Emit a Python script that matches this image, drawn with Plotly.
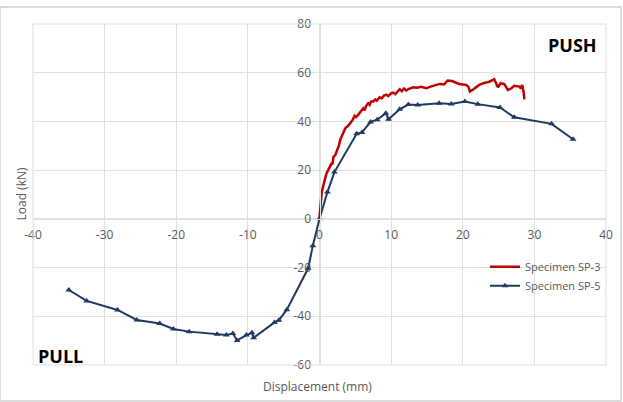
import plotly.graph_objects as go

# SP-3 (red, no markers)
sp3_x = [0.0, 0.1, 0.3, 0.6, 1.0, 1.3, 1.7, 1.8, 1.94, 2.2, 2.4, 2.7, 2.9, 3.2, 3.6, 4.0, 4.3, 4.6, 4.9, 5.1, 5.4, 5.7, 6.1, 6.3, 6.5, 6.8, 7.0, 7.2, 7.5, 7.8, 8.0, 8.4, 8.7, 9.0, 9.35, 9.6, 10.0, 10.3, 10.6, 11.0, 11.2, 11.5, 11.8, 12.1, 12.5, 13.1, 13.6, 14.2, 14.9, 15.5, 16.2, 16.8, 17.4, 17.9, 18.5, 19.0, 19.5, 20.0, 20.5, 20.8, 21.0, 21.5, 22.3, 23.0, 23.7, 24.4, 24.7, 24.9, 25.3, 25.8, 26.3, 26.8, 27.2, 27.9, 28.1, 28.3, 28.5, 28.6]
sp3_y = [0.5, 4.0, 10.6, 14.5, 18.8, 20.5, 22.9, 22.3, 25.4, 26.2, 27.7, 30.0, 32.5, 34.5, 37.2, 38.2, 39.3, 40.5, 42.3, 41.8, 42.7, 44.0, 45.4, 44.6, 46.3, 47.5, 46.8, 48.2, 48.2, 49.0, 48.5, 49.9, 49.5, 50.6, 51.0, 50.4, 51.5, 51.8, 51.2, 52.6, 53.2, 52.4, 53.5, 52.7, 53.4, 54.0, 53.8, 54.2, 53.6, 54.3, 54.9, 55.4, 55.2, 56.8, 56.6, 56.0, 55.4, 55.2, 55.0, 54.2, 52.3, 53.2, 55.0, 55.8, 56.3, 57.3, 55.5, 54.0, 55.7, 55.3, 52.9, 53.6, 54.6, 54.3, 53.5, 55.0, 52.0, 49.1]

# SP-5 (dark blue, triangle markers)
sp5_x = [-35.0, -32.5, -28.2, -25.5, -22.3, -20.4, -18.2, -14.3, -13.0, -12.1, -11.5, -10.2, -9.44, -9.2, -6.28, -5.67, -4.56, -1.58, -0.93, 0.0, 1.11, 2.08, 5.19, 5.93, 7.13, 8.06, 9.26, 9.63, 11.2, 12.4, 13.7, 16.7, 18.4, 20.3, 22.1, 25.2, 27.2, 32.4, 35.4]
sp5_y = [-29.2, -33.7, -37.4, -41.5, -43.0, -45.2, -46.3, -47.4, -47.7, -47.1, -49.9, -47.7, -46.8, -48.8, -42.5, -41.6, -37.3, -20.3, -11.0, 0.0, 11.0, 19.2, 34.9, 35.5, 39.8, 40.7, 43.4, 40.9, 45.0, 46.9, 46.7, 47.5, 47.2, 48.2, 47.1, 45.7, 41.7, 39.0, 32.7]

x_ticks = [-40, -30, -20, -10, 0, 10, 20, 30, 40]
y_ticks = [-60, -40, -20, 0, 20, 40, 60, 80]

FONT = "Open Sans"
GRID = "#e0e0e0"
TXT = "#595959"

fig = go.Figure()
fig.add_trace(go.Scatter(
    x=sp3_x, y=sp3_y, mode="lines", name="Specimen SP-3",
    line=dict(color="#c00000", width=2.5),
))
fig.add_trace(go.Scatter(
    x=sp5_x, y=sp5_y, mode="lines+markers", name="Specimen SP-5",
    line=dict(color="#1f3864", width=2),
    marker=dict(symbol="triangle-up", size=6, color="#1f3864"),
))

fig.update_layout(
    width=623, height=402,
    margin=dict(l=33, r=17, t=24, b=37, autoexpand=False),
    paper_bgcolor="white", plot_bgcolor="white",
    font=dict(family=FONT, color=TXT, size=11),
    showlegend=True,
    legend=dict(x=1.0, y=0.26, xanchor="right", yanchor="middle",
                bgcolor="rgba(0,0,0,0)", font=dict(size=11, color=TXT),
                tracegroupgap=8, itemwidth=30),
    xaxis=dict(range=[-40, 40], tickvals=x_ticks, ticktext=[str(v) for v in x_ticks],
               showgrid=True, gridcolor=GRID, gridwidth=1,
               zeroline=False, showline=True, linecolor=GRID,
               anchor="free", position=60/140, automargin=False,
               ticks="", tickfont=dict(size=12, color=TXT),
               ticklabelstandoff=5, mirror=False),
    yaxis=dict(range=[-60, 80], tickvals=y_ticks, ticktext=[str(v) for v in y_ticks],
               showgrid=True, gridcolor=GRID, gridwidth=1,
               zeroline=False, showline=True, linecolor=GRID,
               anchor="free", position=0.5, automargin=False,
               ticks="", tickfont=dict(size=12, color=TXT),
               ticklabelstandoff=6),
    shapes=[
        dict(type="rect", xref="paper", yref="paper",
             x0=0, x1=1, y0=0, y1=1, line=dict(color=GRID, width=1)),
        dict(type="rect", xref="paper", yref="paper",
             x0=-33/573, x1=(621-33)/573, y0=(364-400)/340, y1=(364-7)/340,
             line=dict(color="#d0d0d0", width=1.5)),
    ],
    annotations=[
        dict(text="PUSH", x=(572-33)/573, y=(364-45)/340, xref="paper", yref="paper",
             showarrow=False, xanchor="center", yanchor="middle",
             font=dict(family=FONT, size=18, color="black", weight="bold")),
        dict(text="PULL", x=(60-33)/573, y=(364-355)/340, xref="paper", yref="paper",
             showarrow=False, xanchor="center", yanchor="middle",
             font=dict(family=FONT, size=18, color="black", weight="bold")),
        dict(text="Load (kN)", x=(21-33)/573, y=(364-194)/340, xref="paper", yref="paper",
             showarrow=False, textangle=-90, xanchor="center", yanchor="middle",
             font=dict(family=FONT, size=12, color=TXT)),
        dict(text="Displacement (mm)", x=(317-33)/573, y=(364-385)/340, xref="paper", yref="paper",
             showarrow=False, xanchor="center", yanchor="middle",
             font=dict(family=FONT, size=12, color=TXT)),
    ],
)

fig.write_html("out.html", config={"displayModeBar": False},
               post_script="document.body.style.margin='0';")
